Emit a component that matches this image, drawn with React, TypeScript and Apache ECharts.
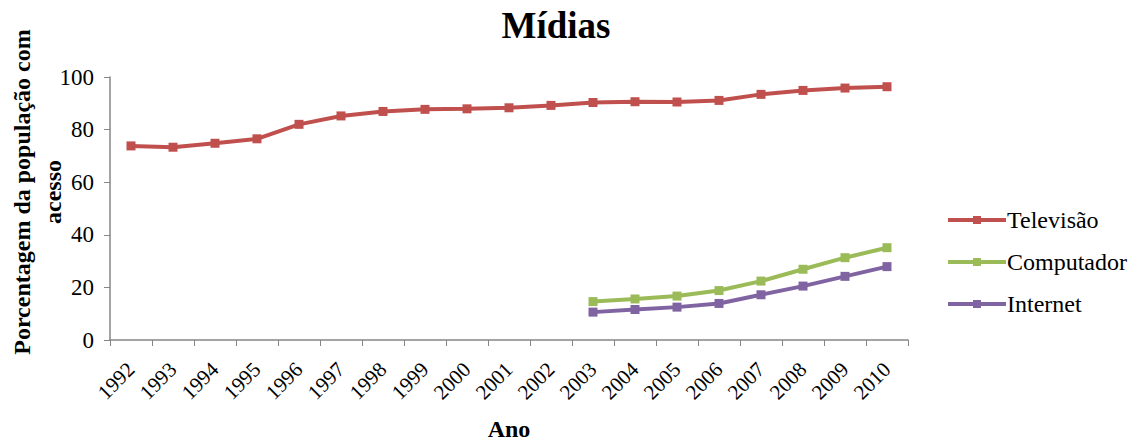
import React, { useEffect, useRef } from "react";
import * as echarts from "echarts";

const years = ["1992","1993","1994","1995","1996","1997","1998","1999","2000","2001","2002","2003","2004","2005","2006","2007","2008","2009","2010"];
const televisao = [73.8, 73.3, 74.8, 76.5, 82.0, 85.2, 86.9, 87.7, 87.9, 88.3, 89.2, 90.3, 90.6, 90.5, 91.1, 93.4, 94.9, 95.8, 96.3];
const computador = [null, null, null, null, null, null, null, null, null, null, null, 14.6, 15.6, 16.7, 18.8, 22.4, 26.9, 31.3, 35.1];
const internet = [null, null, null, null, null, null, null, null, null, null, null, 10.6, 11.6, 12.5, 13.9, 17.2, 20.5, 24.2, 27.9];

const FONT = "'Liberation Serif', 'Times New Roman', serif";

export default function App() {
  const ref = useRef<HTMLDivElement>(null);
  useEffect(() => {
    if (!ref.current) return;
    const chart = echarts.init(ref.current, undefined, { renderer: "svg" });
    const mk = (name: string, data: any[], color: string) => ({
      name,
      type: "line",
      data,
      symbol: "rect",
      symbolSize: 9,
      lineStyle: { width: 4, color },
      itemStyle: { color },
      connectNulls: false,
    });
    chart.setOption({
      animation: false,
      textStyle: { fontFamily: FONT },
      title: {
        text: "Mídias",
        left: 551,
        textAlign: "center",
        top: 2,
        textStyle: { fontFamily: FONT, fontSize: 37, fontWeight: "bold", color: "#000" },
      },
      legend: {
        orient: "vertical",
        left: 941,
        top: 203,
        itemWidth: 58,
        itemHeight: 10,
        itemGap: 18,
        lineStyle: { width: 4 },
        textStyle: { fontFamily: FONT, fontSize: 24, color: "#000", padding: [0, 0, 0, -4] },
        data: ["Televisão", "Computador", "Internet"],
      },
      graphic: [
        {
          type: "text",
          x: 37,
          y: 192,
          rotation: Math.PI / 2,
          style: {
            text: "Porcentagem da população com\nacesso",
            fontFamily: FONT,
            fontSize: 24,
            fontWeight: "bold",
            lineHeight: 31,
            fill: "#000",
            align: "center",
            verticalAlign: "middle",
          },
        },
      ],
      grid: { left: 110, right: 225, top: 77, bottom: 101, outerBoundsMode: "none", containLabel: false },
      xAxis: {
        type: "category",
        data: years,
        boundaryGap: true,
        name: "Ano",
        nameLocation: "middle",
        nameGap: 77,
        nameTextStyle: { fontFamily: FONT, fontSize: 24, fontWeight: "bold", color: "#000" },
        axisLine: { lineStyle: { color: "#868686", width: 1.5 } },
        axisTick: { show: true, length: 6, lineStyle: { color: "#868686" } },
        axisLabel: { rotate: 45, fontFamily: FONT, fontSize: 21, color: "#000", margin: 26, interval: 0 },
      },
      yAxis: {
        type: "value",
        min: 0,
        max: 100,
        interval: 20,
        axisLine: { show: true, lineStyle: { color: "#868686", width: 1.5 } },
        axisTick: { show: true, length: 6, lineStyle: { color: "#868686" } },
        splitLine: { show: false },
        axisLabel: { fontFamily: FONT, fontSize: 23, color: "#000", margin: 16 },
      },
      series: [
        mk("Televisão", televisao, "#C0504D"),
        mk("Computador", computador, "#9BBB59"),
        mk("Internet", internet, "#8064A2"),
      ],
    });
    return () => chart.dispose();
  }, []);
  return <div ref={ref} style={{ position: "absolute", left: 0, top: 0, width: 1133, height: 441 }} />;
}
